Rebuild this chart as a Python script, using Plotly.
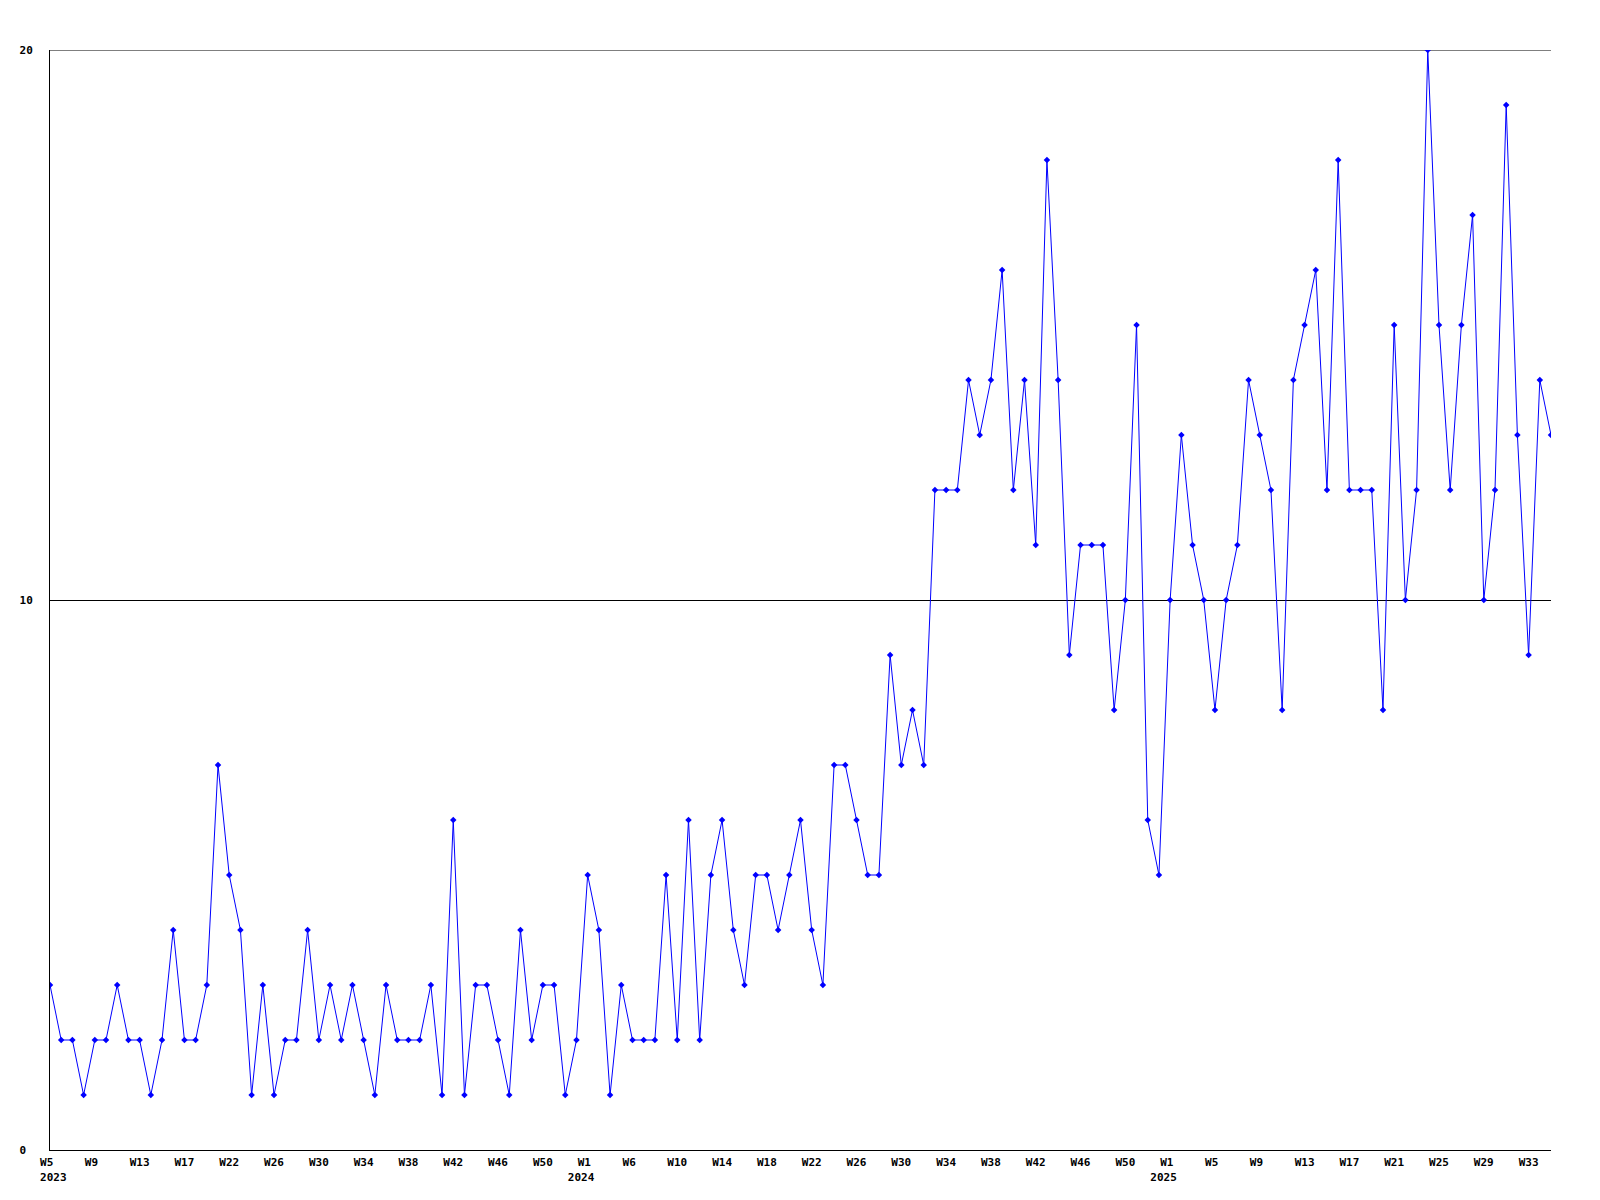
import plotly.graph_objects as go

# Weekly values, 2023 W5 onward
values = [
    3, 2, 2, 1, 2, 2, 3, 2, 2, 1, 2, 4, 2, 2, 3, 7, 5, 4, 1, 3,
    1, 2, 2, 4, 2, 3, 2, 3, 2, 1, 3, 2, 2, 2, 3, 1, 6, 1, 3, 3,
    2, 1, 4, 2, 3, 3, 1, 2, 5, 4, 1, 3, 2, 2, 2, 5, 2, 6, 2, 5,
    6, 4, 3, 5, 5, 4, 5, 6, 4, 3, 7, 7, 6, 5, 5, 9, 7, 8, 7, 12,
    12, 12, 14, 13, 14, 16, 12, 14, 11, 18, 14, 9, 11, 11, 11, 8, 10, 15, 6, 5,
    10, 13, 11, 10, 8, 10, 11, 14, 13, 12, 8, 14, 15, 16, 12, 18, 12, 12, 12, 8,
    15, 10, 12, 20, 15, 12, 15, 17, 10, 12, 19, 13, 9, 14, 13,
]

# x-axis tick labels (one every 4 points) and year markers
week_labels = [
    "W5", "W9", "W13", "W17", "W22", "W26", "W30", "W34", "W38", "W42", "W46", "W50",
    "W1", "W6", "W10", "W14", "W18", "W22", "W26", "W30", "W34", "W38", "W42", "W46", "W50",
    "W1", "W5", "W9", "W13", "W17", "W21", "W25", "W29", "W33",
]
year_labels = {0: "2023", 12: "2024", 25: "2025"}

y_ticks = [0, 10, 20]

NB = "\u00a0"
x = list(range(len(values)))
tickvals = [i * 4 for i in range(len(week_labels))]
ticktext = []
for i, lab in enumerate(week_labels):
    t = lab + NB * (3 - len(lab))
    if i in year_labels:
        if i == 0:
            t += "<br>" + NB + year_labels[i]
        else:
            t += "<br>" + year_labels[i] + NB * 2
    ticktext.append(t)

y_ticktext = [str(v) + NB * (2 - len(str(v))) for v in y_ticks]

fig = go.Figure()
fig.add_trace(go.Scatter(
    x=x, y=values, mode="lines+markers",
    line=dict(color="#0000FF", width=1),
    marker=dict(symbol="diamond", size=5, color="#0000FF"),
    hoverinfo="skip",
))

# grid line at the top tick (Plotly hides grid lines on the range edge)
fig.add_hline(y=y_ticks[-1], line=dict(color="black", width=1), layer="below")

tick_font = dict(family="DejaVu Sans Mono", size=11, color="black", weight="bold")
fig.update_layout(
    width=1592, height=1192,
    margin=dict(l=42, r=49, t=42, b=50),
    plot_bgcolor="white", paper_bgcolor="white",
    showlegend=False,
    font=dict(family="DejaVu Sans Mono", size=11, color="black"),
    xaxis=dict(
        range=[0, len(values) - 1],
        tickmode="array", tickvals=tickvals, ticktext=ticktext,
        showgrid=False, zeroline=False,
        showline=True, linecolor="black", linewidth=1,
        ticks="", ticklabelstandoff=2,
        tickfont=tick_font,
        fixedrange=True,
    ),
    yaxis=dict(
        range=[0, 20],
        tickmode="array", tickvals=y_ticks, ticktext=y_ticktext,
        showgrid=True, gridcolor="black", gridwidth=1,
        zeroline=False,
        showline=True, linecolor="black", linewidth=1,
        ticks="", ticklabelstandoff=14,
        tickfont=tick_font,
        fixedrange=True,
    ),
)

fig.write_html("out.html", config={"displayModeBar": False})
